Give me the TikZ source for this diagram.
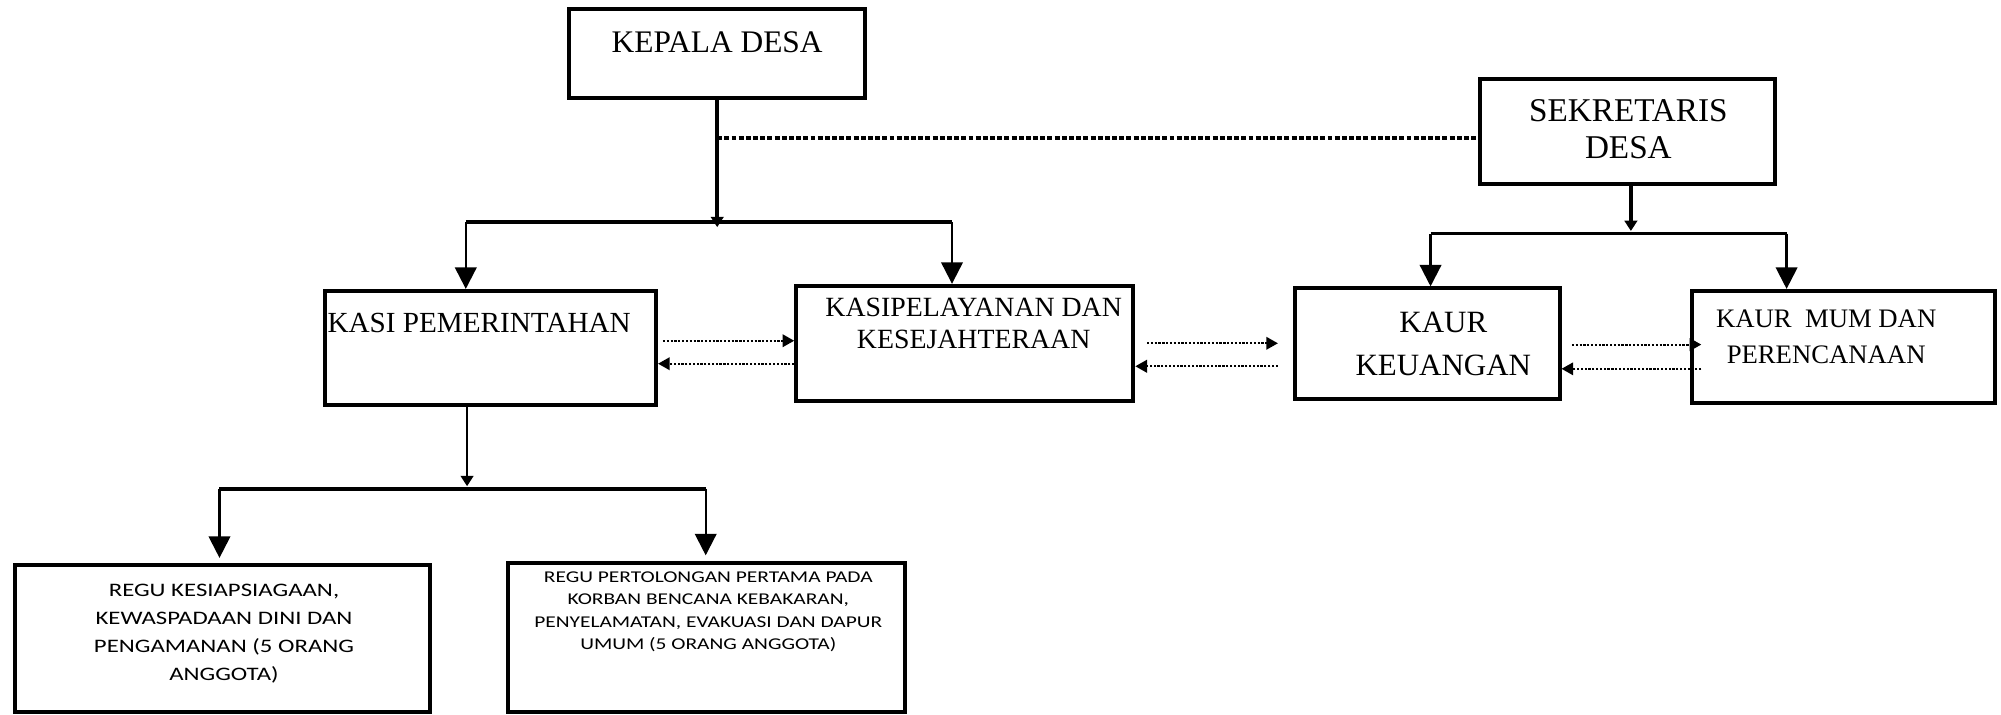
\documentclass[tikz,border=0pt]{standalone}
\usepackage{fontspec}
\setmainfont{Liberation Serif}
\newfontfamily\regufont[FakeStretch=1.3]{Carlito}
\usetikzlibrary{positioning,calc,arrows.meta}

\tikzset{
  kotak/.style={draw, line width=0.9pt, inner sep=0pt},
  teks/.style={inner sep=0pt, align=center},
  bus/.style={line width=0.8pt},
  panah/.style={line width=0.5pt, -{Triangle[length=4.8pt,width=4.8pt]}},
  panahkecil/.style={line width=0.8pt, -{Triangle[length=2.3pt,width=2.8pt]}},
  koordinasi/.style={line width=0.85pt, dash pattern=on 1.1pt off 0.5pt},
  alur/.style={line width=0.45pt, dash pattern=on 0.5pt off 0.35pt, -{Triangle[length=2.6pt,width=2.8pt]}}
}

\begin{document}
\begin{tikzpicture}[x=0.01cm, y=-0.01cm]
    \useasboundingbox (0,0) rectangle (1568,560);

    % kotak jabatan
    \node[kotak, minimum width=2.32cm, minimum height=0.70cm] (kades) at (562,42) {};
    \node[kotak, minimum width=2.31cm, minimum height=0.82cm] (sekdes) at (1275.5,103) {};
    \node[kotak, minimum width=2.59cm, minimum height=0.89cm] (kasipem) at (384.5,272.5) {};
    \node[kotak, minimum width=2.64cm, minimum height=0.90cm] (kasiyan) at (756,269) {};
    \node[kotak, minimum width=2.07cm, minimum height=0.87cm] (kaurkeu) at (1118.5,269.5) {};
    \node[kotak, minimum width=2.37cm, minimum height=0.88cm] (kaurum) at (1444.5,272) {};
    \node[kotak, minimum width=3.25cm, minimum height=1.15cm] (regu1) at (174.5,500.5) {};
    \node[kotak, minimum width=3.11cm, minimum height=1.17cm] (regu2) at (553.5,499.5) {};

    % teks
    \node[teks, font=\fontsize{7}{8}\selectfont] (kadesT) at (562,33) {KEPALA DESA};
    \node[teks, font=\fontsize{7.4}{8.2}\selectfont] (sekdesT) at (1276,101.5) {SEKRETARIS\\DESA};
    \node[teks, anchor=west, font=\fontsize{6.5}{8}\selectfont] (kasipemT) at (256,253) {KASI PEMERINTAHAN};
    \node[teks, font=\fontsize{6.2}{7.1}\selectfont] (kasiyanT) at (763,253.5) {KASIPELAYANAN DAN\\KESEJAHTERAAN};
    \node[teks, font=\fontsize{6.9}{9.4}\selectfont] (kaurkeuT) at (1131,269.5) {KAUR\\KEUANGAN};
    \node[teks, font=\fontsize{5.95}{8}\selectfont] (kaurumT) at (1431,264) {KAUR\ \ MUM DAN\\PERENCANAAN};
    \node[teks, font={\regufont\fontsize{4.25}{6.3}\selectfont}] (regu1T) at (175.5,496.5)
        {REGU KESIAPSIAGAAN,\\KEWASPADAAN DINI DAN\\PENGAMANAN (5 ORANG\\ANGGOTA)};
    \node[teks, font={\regufont\fontsize{3.67}{5}\selectfont}] (regu2T) at (555,479.5)
        {REGU PERTOLONGAN PERTAMA PADA\\KORBAN BENCANA KEBAKARAN,\\PENYELAMATAN, EVAKUASI DAN DAPUR\\UMUM (5 ORANG ANGGOTA)};

    % kepala desa
    \coordinate (bagi1) at (562,178);
    \coordinate (kt) at (562,108);
    \coordinate (ka1) at (365,174);
    \coordinate (ka2) at (746,174);
    \draw[panahkecil] (kades) -- (bagi1);
    \draw[koordinasi] (kt) -- (kt -| sekdes.west);
    \draw[bus] (ka1) -- (ka2);
    \draw[panah] (ka1) -- (ka1 |- kasipem.north);
    \draw[panah] (ka2) -- (ka2 |- kasiyan.north);

    % sekretaris desa
    \coordinate (bagi2) at (1278,181);
    \coordinate (kb1) at (1121,183);
    \coordinate (kb2) at (1400,183);
    \draw[panahkecil] (bagi2 |- sekdes.south) -- (bagi2);
    \draw[bus] (kb1) -- (kb2);
    \draw[panah] (kb1) -- (kb1 |- kaurkeu.north);
    \draw[panah] (kb2) -- (kb2 |- kaurum.north);

    % kasi pemerintahan ke regu
    \coordinate (bagi3) at (366,381);
    \coordinate (kc1) at (172,383);
    \coordinate (kc2) at (553,383);
    \draw[panahkecil, line width=0.5pt] (bagi3 |- kasipem.south) -- (bagi3);
    \draw[bus] (kc1) -- (kc2);
    \draw[panah, shorten >=1.2pt] (kc1) -- (kc1 |- regu1.north);
    \draw[panah, shorten >=1.2pt] (kc2) -- (kc2 |- regu2.north);

    % hubungan kerja
    \draw[alur, shorten <=1.1pt] (kasipem.east |- 0,267) -- (kasiyan.west |- 0,267);
    \draw[alur] (kasiyan.west |- 0,285) -- (kasipem.east |- 0,285);
    \draw[alur, shorten <=2.6pt, shorten >=3.4pt] (kasiyan.east |- 0,269) -- (kaurkeu.west |- 0,269);
    \draw[alur, shorten <=3.4pt] (kaurkeu.west |- 0,287) -- (kasiyan.east |- 0,287);
    \draw[alur, shorten <=2.3pt, shorten >=-2.5pt] (kaurkeu.east |- 0,270) -- (kaurum.west |- 0,270);
    \draw[alur, shorten <=-2.5pt] (kaurum.west |- 0,289) -- (kaurkeu.east |- 0,289);
\end{tikzpicture}
\end{document}
